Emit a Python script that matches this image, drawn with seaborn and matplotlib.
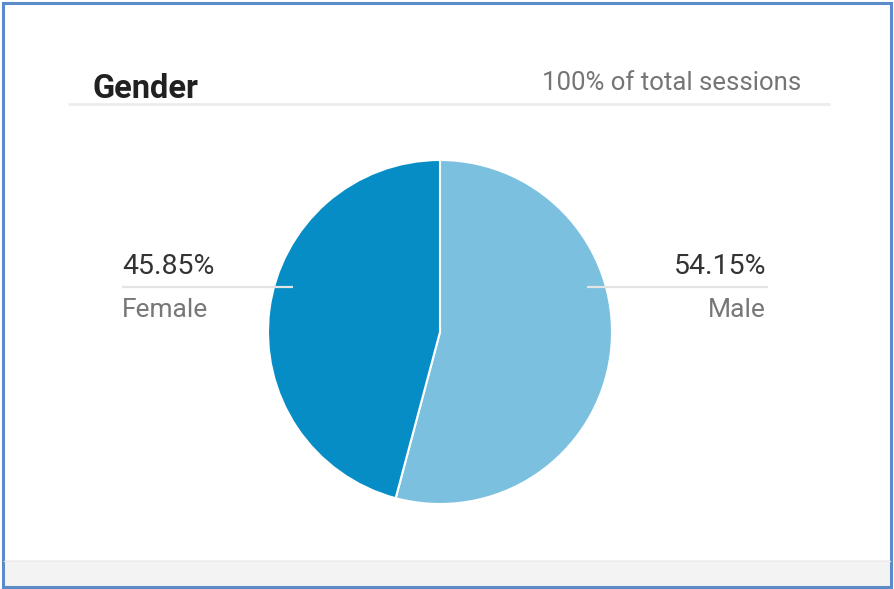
import matplotlib
matplotlib.use("Agg")
import matplotlib.pyplot as plt
import seaborn as sns
from matplotlib.patches import Rectangle

# data
genders = ["Male", "Female"]
shares = [54.15, 45.85]
colors = ["#7BC0DF", "#068DC6"]
title = "Gender"
subtitle = "100% of total sessions"

sns.set_theme(style="white")
plt.rcParams['font.family'] = ['Roboto', 'DejaVu Sans']

W, H = 894, 589
fig = plt.figure(figsize=(W / 100, H / 100), dpi=100)
fig.patch.set_facecolor("white")

# background axes in pixel coords (y down)
bg = fig.add_axes([0, 0, 1, 1], zorder=0)
bg.set_xlim(0, W)
bg.set_ylim(H, 0)
bg.axis("off")
bg.add_patch(Rectangle((4, 560), 886, 26, facecolor="#F3F3F3", edgecolor="none"))
bg.plot([4, 890], [560.5, 560.5], color="#EBEBEB", lw=1)
bg.add_patch(Rectangle((2.5, 2.5), 888, 584, facecolor="none", edgecolor="#5B8BC9", lw=2.2))

# pie
cx, cy, r = 440, 332, 172
pax = fig.add_axes([(cx - r) / W, (H - cy - r) / H, 2 * r / W, 2 * r / H], zorder=1)
pax.pie(shares, colors=colors, startangle=90, counterclock=False,
        wedgeprops=dict(edgecolor="white", linewidth=1.5), radius=1)
pax.set_xlim(-1, 1)
pax.set_ylim(-1, 1)
pax.set_aspect("equal")
pax.axis("off")

# overlay: header, leader lines, labels
ov = fig.add_axes([0, 0, 1, 1], zorder=2)
ov.set_xlim(0, W)
ov.set_ylim(H, 0)
ov.axis("off")
ov.patch.set_alpha(0)

ov.text(92, 97.5, title, fontsize=23.5, fontweight="bold", color="#212121", va="baseline", ha="left")
ov.text(801, 90.5, subtitle, fontsize=18.5, color="#757575", va="baseline", ha="right")
ov.plot([68, 830], [103.5, 103.5], color="#ECECEC", lw=2, solid_capstyle="butt")

male_idx, female_idx = genders.index("Male"), genders.index("Female")
# female on left
ov.plot([122, 293], [287, 287], color="#E3E3E3", lw=1.6, solid_capstyle="butt")
ov.text(122, 274, f"{shares[female_idx]:.2f}%", fontsize=20.5, color="#333333", va="baseline", ha="left")
ov.text(122, 317, genders[female_idx], fontsize=19, color="#777777", va="baseline", ha="left")
# male on right
ov.plot([587, 768], [287, 287], color="#E3E3E3", lw=1.6, solid_capstyle="butt")
ov.text(766, 274, f"{shares[male_idx]:.2f}%", fontsize=20.5, color="#333333", va="baseline", ha="right")
ov.text(766, 317, genders[male_idx], fontsize=19, color="#777777", va="baseline", ha="right")

fig.savefig("out.png", dpi=100)
